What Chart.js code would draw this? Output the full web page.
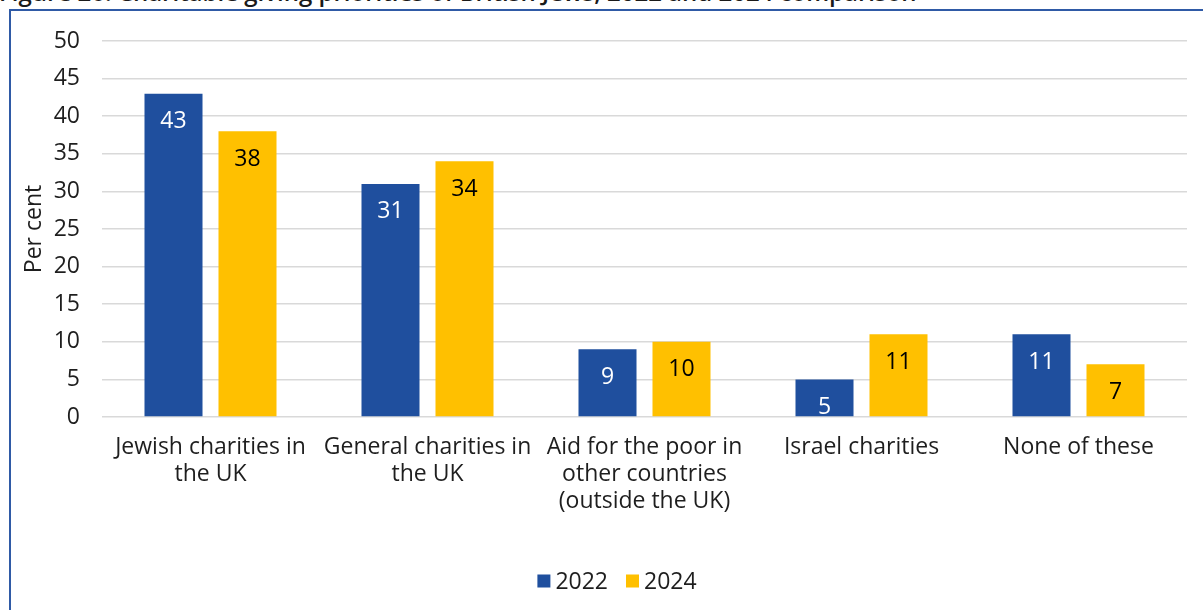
<!DOCTYPE html>
<html>
<head>
<meta charset="utf-8">
<script src="https://cdn.jsdelivr.net/npm/chart.js@4/dist/chart.umd.min.js"></script>
<style>
  html, body { margin: 0; padding: 0; background: #fff; }
  #wrap { position: relative; width: 1203px; height: 610px; overflow: hidden; }
  #title {
    position: absolute; left: -1px; top: -20px; white-space: nowrap;
    font-family: "Open Sans", sans-serif; font-size: 24px; line-height: 24px;
    font-weight: 600; color: #1a1a1a;
  }
  #frame {
    position: absolute; left: 9px; top: 9px; width: 1300px; height: 700px;
    border-left: 2px solid #2f5aa6; border-top: 2px solid #2f5aa6;
  }
  #c { position: absolute; left: 0; top: 0; }
</style>
</head>
<body>
<div id="wrap">
  <div id="title">Figure 26: Charitable giving priorities of British Jews, 2022 and 2024 comparison</div>
  <div id="frame"></div>
  <canvas id="c" width="1203" height="610"></canvas>
</div>
<script>
// Giving priorities, share of respondents (%)
const categories = [
  ["Jewish charities in", "the UK"],
  ["General charities in", "the UK"],
  ["Aid for the poor in", "other countries", "(outside the UK)"],
  "Israel charities",
  "None of these"
];
const values2022 = [43, 31, 9, 5, 11];
const values2024 = [38, 34, 10, 11, 7];
const seriesLabels = ["2022", "2024"];
const yTicks = [0, 5, 10, 15, 20, 25, 30, 35, 40, 45, 50];

const BLUE = "#1f4f9e";
const GOLD = "#ffc000";
const FONT = "'Open Sans', sans-serif";
const TEXT = "#1e1e1e";

// Value labels placed just inside the top of each bar
const barValueLabels = {
  id: "barValueLabels",
  afterDatasetsDraw(chart) {
    const ctx = chart.ctx;
    ctx.save();
    ctx.font = "23px " + FONT;
    ctx.textAlign = "center";
    ctx.textBaseline = "middle";
    chart.data.datasets.forEach((ds, i) => {
      const meta = chart.getDatasetMeta(i);
      meta.data.forEach((bar, j) => {
        ctx.fillStyle = i === 0 ? "#ffffff" : "#000000";
        ctx.fillText(String(ds.data[j]), bar.x, bar.y + 28);
      });
    });
    ctx.restore();
  }
};

// Compact series key under the category labels
const seriesKey = {
  id: "seriesKey",
  afterDraw(chart) {
    const ctx = chart.ctx;
    const box = 13, gapText = 5, gapItem = 18;
    const cx = 617, cy = 581;
    ctx.save();
    ctx.font = "23px " + FONT;
    ctx.textBaseline = "middle";
    ctx.textAlign = "left";
    const items = chart.data.datasets.map(ds => ({
      text: ds.label, color: ds.backgroundColor, w: ctx.measureText(ds.label).width
    }));
    const total = items.reduce((s, it) => s + box + gapText + it.w, 0) + gapItem * (items.length - 1);
    let x = cx - total / 2;
    items.forEach(it => {
      ctx.fillStyle = it.color;
      ctx.fillRect(x, cy - box / 2, box, box);
      x += box + gapText;
      ctx.fillStyle = TEXT;
      ctx.fillText(it.text, x, cy + 1);
      x += it.w + gapItem;
    });
    ctx.restore();
  }
};

new Chart(document.getElementById("c"), {
  type: "bar",
  data: {
    labels: categories,
    datasets: [
      { label: seriesLabels[0], data: values2022, backgroundColor: BLUE },
      { label: seriesLabels[1], data: values2024, backgroundColor: GOLD }
    ]
  },
  options: {
    responsive: false,
    animation: false,
    devicePixelRatio: 1,
    datasets: { bar: { categoryPercentage: 0.682, barPercentage: 0.784 } },
    layout: { padding: { left: 14, right: 16, top: 41, bottom: 0 } },
    plugins: {
      tooltip: { enabled: false },
      legend: { display: false }
    },
    scales: {
      x: {
        grid: { display: false, drawTicks: false },
        border: { display: false },
        ticks: {
          color: TEXT,
          padding: 17,
          maxRotation: 0,
          autoSkip: false,
          font: { family: FONT, size: 23, lineHeight: 1.17 }
        },
        afterFit(scale) { scale.height = 193; }
      },
      y: {
        min: 0, max: 50,
        afterBuildTicks(scale) { scale.ticks = yTicks.map(v => ({ value: v })); },
        grid: { color: "#d9d9d9", lineWidth: 1.5, drawTicks: false },
        border: { display: false },
        ticks: {
          color: TEXT,
          padding: 22,
          font: { family: FONT, size: 23 }
        },
        title: {
          display: true, text: "Per cent", color: TEXT,
          padding: { top: 7, bottom: 0 },
          font: { family: FONT, size: 23 }
        },
        afterFit(scale) { scale.width = 88; }
      }
    }
  },
  plugins: [barValueLabels, seriesKey]
});
</script>
</body>
</html>
